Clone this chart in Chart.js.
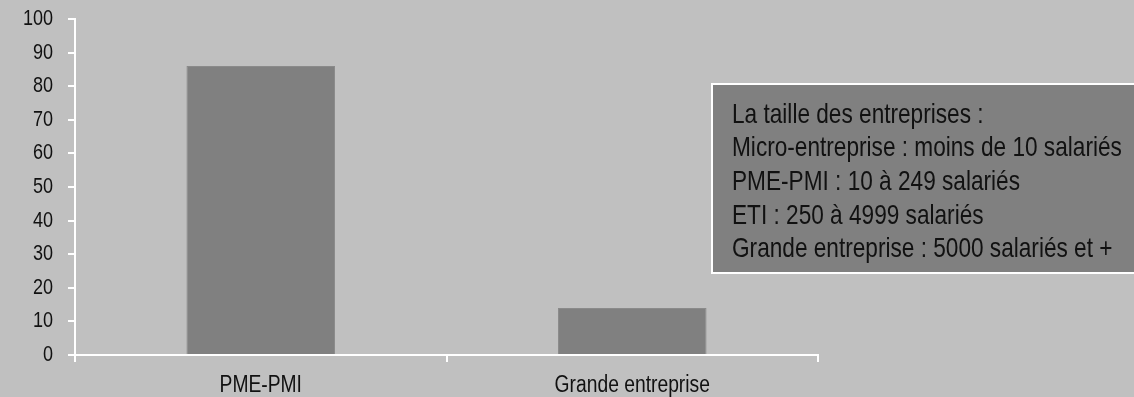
<!DOCTYPE html>
<html>
<head>
<meta charset="utf-8">
<script src="https://cdn.jsdelivr.net/npm/chart.js@4/dist/chart.umd.min.js"></script>
<style>
  html, body { margin: 0; padding: 0; background: #c0c0c0; }
  #wrap { width: 1134px; height: 397px; position: relative; }
</style>
</head>
<body>
<div id="wrap"><canvas id="c" width="1134" height="397"></canvas></div>
<script>
const categories = ['PME-PMI', 'Grande entreprise'];
const values = [86, 14];
const yTicks = [0, 10, 20, 30, 40, 50, 60, 70, 80, 90, 100];
const noteLines = [
  'La taille des entreprises :',
  'Micro-entreprise : moins de 10 salariés',
  'PME-PMI : 10 à 249 salariés',
  'ETI : 250 à 4999 salariés',
  'Grande entreprise : 5000 salariés et +'
];

const FONT = "'Liberation Sans', Arial, sans-serif";
const NARROW = 0.82; // emulate Arial Narrow by horizontal scaling

const bgPlugin = {
  id: 'bg',
  beforeDraw(chart) {
    const ctx = chart.ctx;
    ctx.save();
    ctx.fillStyle = '#c0c0c0';
    ctx.fillRect(0, 0, chart.width, chart.height);
    ctx.restore();
    Object.values(chart.scales).forEach(s => {
      if (s._narrowPatched) return;
      const orig = s.drawLabels.bind(s);
      s.drawLabels = function (area) {
        const c = this.ctx;
        const of = c.fillText;
        c.fillText = function (t, x, y, mw) {
          this.save();
          this.translate(x, y);
          this.scale(NARROW, 1);
          of.call(this, t, 0, 0);
          this.restore();
        };
        try { orig(area); } finally { c.fillText = of; }
      };
      s._narrowPatched = true;
    });
  }
};

const notePlugin = {
  id: 'note',
  afterDraw(chart) {
    const ctx = chart.ctx;
    ctx.save();
    ctx.fillStyle = '#808080';
    ctx.fillRect(712, 84, 430, 189);
    ctx.strokeStyle = '#ffffff';
    ctx.lineWidth = 2;
    ctx.strokeRect(712, 84, 430, 189);
    ctx.fillStyle = '#111111';
    ctx.font = "27.6px " + FONT;
    ctx.textBaseline = 'alphabetic';
    ctx.textAlign = 'left';
    noteLines.forEach((t, i) => {
      ctx.save();
      ctx.translate(732, 122.5 + i * 33.7);
      ctx.scale(NARROW, 1);
      ctx.fillText(t, 0, 0);
      ctx.restore();
    });
    ctx.restore();
  }
};

new Chart(document.getElementById('c'), {
  type: 'bar',
  data: {
    labels: categories,
    datasets: [{
      data: values,
      backgroundColor: '#808080',
      borderColor: '#8a8a8a',
      borderWidth: 1,
      barPercentage: 0.4,
      categoryPercentage: 1.0
    }]
  },
  options: {
    responsive: false,
    animation: false,
    devicePixelRatio: 1,
    layout: { padding: { top: 19, right: 316, bottom: 0, left: 0 } },
    plugins: { legend: { display: false }, tooltip: { enabled: false } },
    scales: {
      x: {
        grid: { display: true, drawOnChartArea: false, drawTicks: true, tickLength: 7, color: '#ffffff', lineWidth: 2, offset: true },
        border: { display: true, color: '#ffffff', width: 2 },
        ticks: { color: '#111111', font: { family: FONT, size: 23.5 }, padding: 9, maxRotation: 0 },
        afterFit(scale) { scale.height = 42; scale.paddingLeft = 0; scale.paddingRight = 0; }
      },
      y: {
        min: 0, max: 100,
        afterBuildTicks(scale) { scale.ticks = yTicks.map(v => ({ value: v })); },
        grid: { display: true, drawOnChartArea: false, drawTicks: true, tickLength: 7, color: '#ffffff', lineWidth: 2 },
        border: { display: true, color: '#ffffff', width: 2 },
        ticks: { color: '#111111', font: { family: FONT, size: 22 }, padding: 15 },
        afterFit(scale) { scale.width = 75; scale.paddingTop = 0; scale.paddingBottom = 0; }
      }
    }
  },
  plugins: [bgPlugin, notePlugin]
});
</script>
</body>
</html>
